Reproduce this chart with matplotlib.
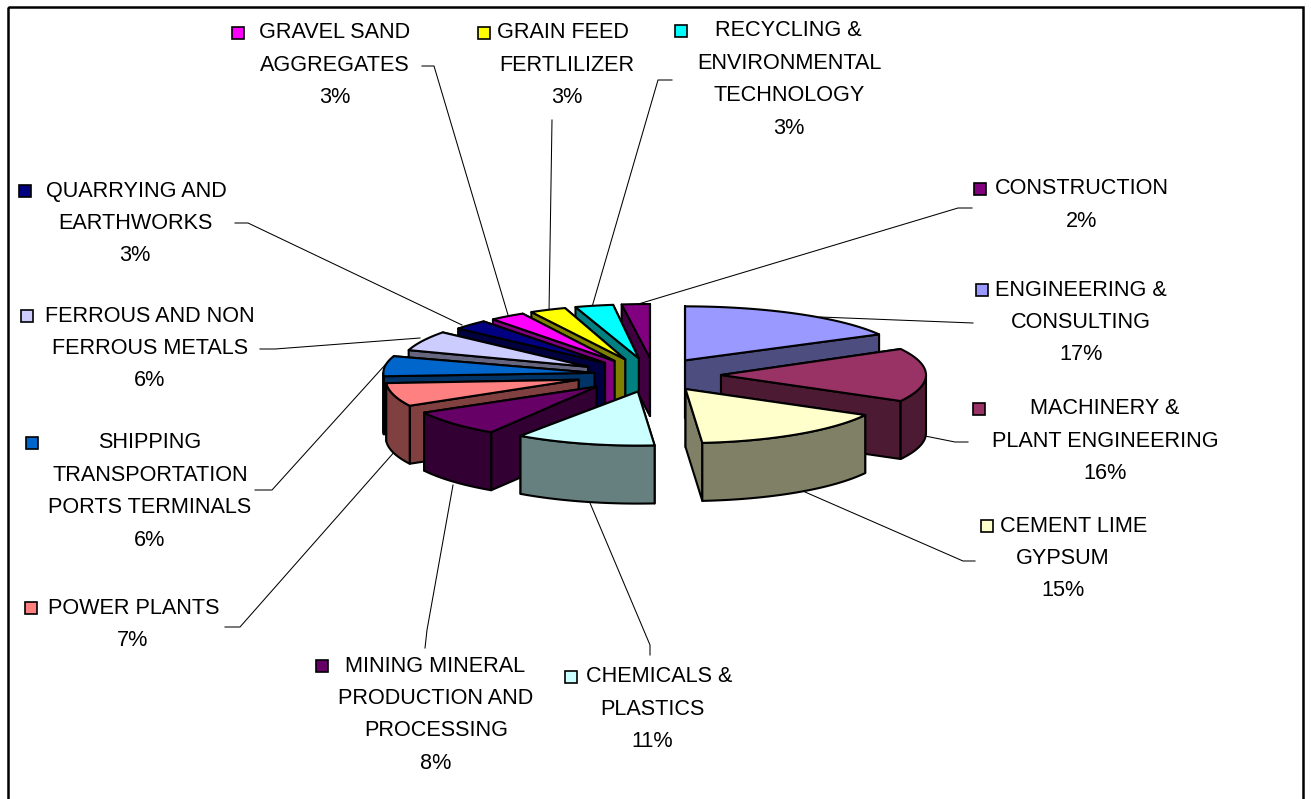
import matplotlib
matplotlib.use("Agg")
import matplotlib.pyplot as plt
from matplotlib.patches import Polygon, Rectangle
import numpy as np

plt.rcParams['font.family'] = ['Liberation Sans', 'DejaVu Sans']

# shares, clockwise from 12 o'clock
names = ["ENGINEERING &\nCONSULTING", "MACHINERY &\nPLANT ENGINEERING", "CEMENT LIME\nGYPSUM",
         "CHEMICALS &\nPLASTICS", "MINING MINERAL\nPRODUCTION AND\nPROCESSING", "POWER PLANTS",
         "SHIPPING\nTRANSPORTATION\nPORTS TERMINALS", "FERROUS AND NON\nFERROUS METALS",
         "QUARRYING AND\nEARTHWORKS", "GRAVEL SAND\nAGGREGATES", "GRAIN FEED\nFERTLILIZER",
         "RECYCLING &\nENVIRONMENTAL\nTECHNOLOGY", "CONSTRUCTION"]
values = [17, 16, 15, 11, 8, 7, 6, 6, 3, 3, 3, 3, 2]
top_colors = ["#9999FF", "#993366", "#FFFFCC", "#CCFFFF", "#660066", "#FF8080", "#0066CC",
              "#CCCCFF", "#000080", "#FF00FF", "#FFFF00", "#00FFFF", "#800080"]

# label layout: key centre x, first line centre x, other lines centre x, first line y
key_x = [982, 979, 987, 571, 322, 31, 32, 27, 25, 238, 484, 681, 980]
first_x = [1081, 1105, 1074, 659, 435, 134, 150, 150, 136, 335, 563, 788, 1082]
rest_x = [1081, 1105, 1063, 652, 436, 133, 150, 150, 135, 335, 567, 789, 1082]
first_y = [290, 409, 526, 677, 666, 608, 443, 316, 191, 33, 33, 31, 189]

# leader lines, label end first
leaders = [[(973, 323), (820, 317)],
           [(968, 442), (955, 442), (925, 436)],
           [(975, 561), (963, 561), (805, 492)],
           [(650, 655), (650, 645), (590, 503)],
           [(425, 648), (427, 630), (453, 485)],
           [(225, 627), (240, 627), (396, 450)],
           [(255, 490), (272, 490), (385, 365)],
           [(260, 349), (275, 349), (420, 338)],
           [(235, 223), (248, 223), (462, 325)],
           [(422, 66), (434, 66), (508, 315)],
           [(552, 120), (549, 312)],
           [(672, 80), (658, 80), (592, 307)],
           [(972, 208), (958, 208), (635, 305)]]

cx, cy = 654, 375
rx, ry = 205, 54
ex, ey = 65, 17
depth = 58

# per slice corrections for the picture's skewed projection
nudge_x = [-2, 2, -5, -2, -10, -13, 5, -9, -3, -3, -3, -1, 0]
stretch = [1.08, 1.0, 1, 1.0, 0.96, 0.94, 1.03, 0.92, 0.93, 0.93, 0.95, 1, 1.1]
turn_end = [0, 0, 2.5, 2.5, 0, 0, 0, 0, 0, 0, 0, 0, 0]
turn_start = [0, 0, 0, 2.5, 0, 0, 0, 0, 0, 0, 0, 0, 0]


def point(x0, y0, deg, k=1):
    a = np.radians(deg)
    return np.column_stack([x0 + k * rx * np.sin(a), y0 - ry * np.cos(a)])


fig = plt.figure(figsize=(13.11, 7.99), dpi=100)
ax = fig.add_axes([0, 0, 1, 1])
ax.set_xlim(0, 1311)
ax.set_ylim(799, 0)
ax.axis("off")

# chart frame runs off the bottom of the picture
ax.add_patch(Rectangle((8, 7), 1295, 810, fill=False, ec="black", lw=1.8))

edges = np.cumsum([0] + values) * 3.6
mids = (edges[:-1] + edges[1:]) / 2

for xy in leaders:
    xs, ys = zip(*xy)
    ax.plot(xs, ys, color="black", lw=0.75, zorder=1)

# painter's order, back slices first
for i in np.argsort(-np.cos(np.radians(mids))):
    a0, a1 = edges[i] + turn_start[i], edges[i + 1] + turn_end[i]
    m = np.radians(mids[i])
    x0 = cx + ex * np.sin(m) + nudge_x[i]
    y0 = cy - ey * np.cos(m)
    top = top_colors[i]
    side = tuple(c * 0.5 for c in matplotlib.colors.to_rgb(top))
    style = dict(fc=side, ec="black", lw=1.5, joinstyle="round", zorder=2)

    arc = point(x0, y0, np.linspace(a0, a1, 60), stretch[i])
    # rear radial face first so the visible one covers it
    for p in sorted((arc[0], arc[-1]), key=lambda q: q[1]):
        ax.add_patch(Polygon([(x0, y0), p, p + (0, depth), (x0, y0 + depth)], **style))
    lo, hi = max(a0, 90), min(a1, 270)
    if lo < hi:
        front = point(x0, y0, np.linspace(lo, hi, 60), stretch[i])
        ax.add_patch(Polygon(np.vstack([front, front[::-1] + (0, depth)]), **style))
    ax.add_patch(Polygon(np.vstack([[(x0, y0)], arc]), fc=top, ec="black", lw=1.5,
                         joinstyle="round", zorder=2))

# labels with legend keys
for i, name in enumerate(names):
    lines = name.split("\n") + [f"{values[i]}%"]
    for j, line in enumerate(lines):
        tx = first_x[i] if j == 0 else rest_x[i]
        ax.text(tx, first_y[i] + j * 32.4, line, ha="center", va="center", fontsize=15.6,
                color="black", zorder=3)
    ax.add_patch(Rectangle((key_x[i] - 6, first_y[i] - 6), 12, 12, fc=top_colors[i], ec="black",
                           lw=1.2, zorder=3))

fig.savefig("out.png", dpi=100, facecolor="white")
